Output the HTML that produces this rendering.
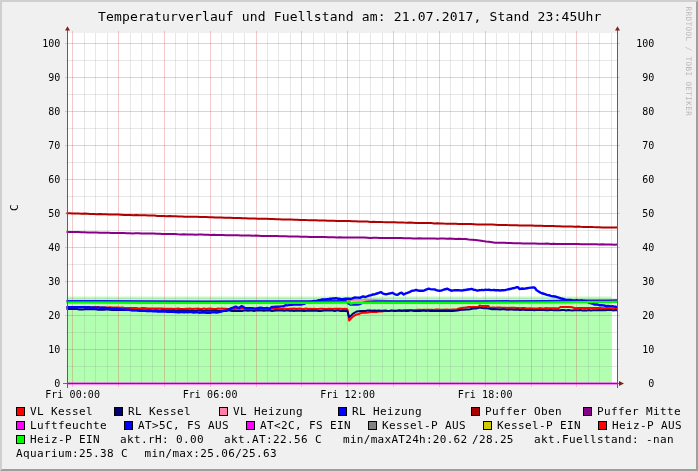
<!DOCTYPE html>
<html lang="de"><head><meta charset="utf-8"><title>Temperaturverlauf und Fuellstand</title>
<style>
html,body{margin:0;padding:0;background:#f0f0f0;}
body{width:698px;height:471px;overflow:hidden;}
svg{display:block;will-change:transform;transform:translateZ(0);}
text{font-family:"DejaVu Sans Mono","Liberation Mono",monospace;fill:#000;}
.t{font-size:13px;}
.a{font-size:10px;}
.l{font-size:11px;}
.w{font-size:7.6px;fill:#b8b8b8;}
</style></head><body>
<svg width="698" height="471" viewBox="0 0 698 471">
<rect x="0" y="0" width="698" height="471" fill="#f0f0f0"/>
<polygon points="0,0 698,0 696,2 2,2 2,469 0,471" fill="#cfcfcf"/>
<polygon points="698,471 0,471 2,469 696,469 696,2 698,0" fill="#9e9e9e"/>
<rect x="67" y="33" width="550" height="350" fill="#fff"/>
<polygon points="67,383 67,296.6 477.5,296.5 479.5,297.6 480.5,297.6 482,296.5 611.2,296.5 611.2,383" fill="#00ff00" fill-opacity="0.27"/>
<rect x="67" y="308" width="544.2" height="75" fill="#00ff00" fill-opacity="0.04"/>
<g shape-rendering="crispEdges"><line x1="72.5" y1="31" x2="72.5" y2="387" stroke="#dd5050" stroke-opacity="0.31"/><line x1="84.5" y1="33" x2="84.5" y2="383" stroke="#8f8f8f" stroke-opacity="0.21"/><line x1="95.5" y1="33" x2="95.5" y2="383" stroke="#8f8f8f" stroke-opacity="0.21"/><line x1="107.5" y1="33" x2="107.5" y2="383" stroke="#8f8f8f" stroke-opacity="0.21"/><line x1="118.5" y1="31" x2="118.5" y2="387" stroke="#dd5050" stroke-opacity="0.31"/><line x1="130.5" y1="33" x2="130.5" y2="383" stroke="#8f8f8f" stroke-opacity="0.21"/><line x1="141.5" y1="33" x2="141.5" y2="383" stroke="#8f8f8f" stroke-opacity="0.21"/><line x1="152.5" y1="33" x2="152.5" y2="383" stroke="#8f8f8f" stroke-opacity="0.21"/><line x1="164.5" y1="31" x2="164.5" y2="387" stroke="#dd5050" stroke-opacity="0.31"/><line x1="175.5" y1="33" x2="175.5" y2="383" stroke="#8f8f8f" stroke-opacity="0.21"/><line x1="187.5" y1="33" x2="187.5" y2="383" stroke="#8f8f8f" stroke-opacity="0.21"/><line x1="198.5" y1="33" x2="198.5" y2="383" stroke="#8f8f8f" stroke-opacity="0.21"/><line x1="210.5" y1="31" x2="210.5" y2="387" stroke="#dd5050" stroke-opacity="0.31"/><line x1="221.5" y1="33" x2="221.5" y2="383" stroke="#8f8f8f" stroke-opacity="0.21"/><line x1="233.5" y1="33" x2="233.5" y2="383" stroke="#8f8f8f" stroke-opacity="0.21"/><line x1="244.5" y1="33" x2="244.5" y2="383" stroke="#8f8f8f" stroke-opacity="0.21"/><line x1="256.5" y1="31" x2="256.5" y2="387" stroke="#dd5050" stroke-opacity="0.31"/><line x1="267.5" y1="33" x2="267.5" y2="383" stroke="#8f8f8f" stroke-opacity="0.21"/><line x1="278.5" y1="33" x2="278.5" y2="383" stroke="#8f8f8f" stroke-opacity="0.21"/><line x1="290.5" y1="33" x2="290.5" y2="383" stroke="#8f8f8f" stroke-opacity="0.21"/><line x1="301.5" y1="31" x2="301.5" y2="387" stroke="#dd5050" stroke-opacity="0.31"/><line x1="313.5" y1="33" x2="313.5" y2="383" stroke="#8f8f8f" stroke-opacity="0.21"/><line x1="324.5" y1="33" x2="324.5" y2="383" stroke="#8f8f8f" stroke-opacity="0.21"/><line x1="336.5" y1="33" x2="336.5" y2="383" stroke="#8f8f8f" stroke-opacity="0.21"/><line x1="347.5" y1="31" x2="347.5" y2="387" stroke="#dd5050" stroke-opacity="0.31"/><line x1="359.5" y1="33" x2="359.5" y2="383" stroke="#8f8f8f" stroke-opacity="0.21"/><line x1="370.5" y1="33" x2="370.5" y2="383" stroke="#8f8f8f" stroke-opacity="0.21"/><line x1="382.5" y1="33" x2="382.5" y2="383" stroke="#8f8f8f" stroke-opacity="0.21"/><line x1="393.5" y1="31" x2="393.5" y2="387" stroke="#dd5050" stroke-opacity="0.31"/><line x1="405.5" y1="33" x2="405.5" y2="383" stroke="#8f8f8f" stroke-opacity="0.21"/><line x1="416.5" y1="33" x2="416.5" y2="383" stroke="#8f8f8f" stroke-opacity="0.21"/><line x1="427.5" y1="33" x2="427.5" y2="383" stroke="#8f8f8f" stroke-opacity="0.21"/><line x1="439.5" y1="31" x2="439.5" y2="387" stroke="#dd5050" stroke-opacity="0.31"/><line x1="450.5" y1="33" x2="450.5" y2="383" stroke="#8f8f8f" stroke-opacity="0.21"/><line x1="462.5" y1="33" x2="462.5" y2="383" stroke="#8f8f8f" stroke-opacity="0.21"/><line x1="473.5" y1="33" x2="473.5" y2="383" stroke="#8f8f8f" stroke-opacity="0.21"/><line x1="485.5" y1="31" x2="485.5" y2="387" stroke="#dd5050" stroke-opacity="0.31"/><line x1="496.5" y1="33" x2="496.5" y2="383" stroke="#8f8f8f" stroke-opacity="0.21"/><line x1="508.5" y1="33" x2="508.5" y2="383" stroke="#8f8f8f" stroke-opacity="0.21"/><line x1="519.5" y1="33" x2="519.5" y2="383" stroke="#8f8f8f" stroke-opacity="0.21"/><line x1="531.5" y1="31" x2="531.5" y2="387" stroke="#dd5050" stroke-opacity="0.31"/><line x1="542.5" y1="33" x2="542.5" y2="383" stroke="#8f8f8f" stroke-opacity="0.21"/><line x1="553.5" y1="33" x2="553.5" y2="383" stroke="#8f8f8f" stroke-opacity="0.21"/><line x1="565.5" y1="33" x2="565.5" y2="383" stroke="#8f8f8f" stroke-opacity="0.21"/><line x1="576.5" y1="31" x2="576.5" y2="387" stroke="#dd5050" stroke-opacity="0.31"/><line x1="588.5" y1="33" x2="588.5" y2="383" stroke="#8f8f8f" stroke-opacity="0.21"/><line x1="599.5" y1="33" x2="599.5" y2="383" stroke="#8f8f8f" stroke-opacity="0.21"/><line x1="611.5" y1="33" x2="611.5" y2="383" stroke="#8f8f8f" stroke-opacity="0.21"/><line x1="65" y1="383.5" x2="620" y2="383.5" stroke="#dd5050" stroke-opacity="0.31"/><line x1="66" y1="366.5" x2="618" y2="366.5" stroke="#8f8f8f" stroke-opacity="0.21"/><line x1="65" y1="349.5" x2="620" y2="349.5" stroke="#dd5050" stroke-opacity="0.31"/><line x1="66" y1="332.5" x2="618" y2="332.5" stroke="#8f8f8f" stroke-opacity="0.21"/><line x1="65" y1="315.5" x2="620" y2="315.5" stroke="#dd5050" stroke-opacity="0.31"/><line x1="66" y1="298.5" x2="618" y2="298.5" stroke="#8f8f8f" stroke-opacity="0.21"/><line x1="65" y1="281.5" x2="620" y2="281.5" stroke="#dd5050" stroke-opacity="0.31"/><line x1="66" y1="264.5" x2="618" y2="264.5" stroke="#8f8f8f" stroke-opacity="0.21"/><line x1="65" y1="247.5" x2="620" y2="247.5" stroke="#dd5050" stroke-opacity="0.31"/><line x1="66" y1="230.5" x2="618" y2="230.5" stroke="#8f8f8f" stroke-opacity="0.21"/><line x1="65" y1="213.5" x2="620" y2="213.5" stroke="#dd5050" stroke-opacity="0.31"/><line x1="66" y1="196.5" x2="618" y2="196.5" stroke="#8f8f8f" stroke-opacity="0.21"/><line x1="65" y1="179.5" x2="620" y2="179.5" stroke="#dd5050" stroke-opacity="0.31"/><line x1="66" y1="162.5" x2="618" y2="162.5" stroke="#8f8f8f" stroke-opacity="0.21"/><line x1="65" y1="145.5" x2="620" y2="145.5" stroke="#dd5050" stroke-opacity="0.31"/><line x1="66" y1="128.5" x2="618" y2="128.5" stroke="#8f8f8f" stroke-opacity="0.21"/><line x1="65" y1="111.5" x2="620" y2="111.5" stroke="#dd5050" stroke-opacity="0.31"/><line x1="66" y1="94.5" x2="618" y2="94.5" stroke="#8f8f8f" stroke-opacity="0.21"/><line x1="65" y1="77.5" x2="620" y2="77.5" stroke="#dd5050" stroke-opacity="0.31"/><line x1="66" y1="60.5" x2="618" y2="60.5" stroke="#8f8f8f" stroke-opacity="0.21"/><line x1="65" y1="43.5" x2="620" y2="43.5" stroke="#dd5050" stroke-opacity="0.31"/></g>
<polyline points="66.5,306.9 68.6,307.0 70.7,307.0 72.8,307.1 74.9,307.1 77.0,306.9 79.1,306.9 81.2,307.3 83.2,307.1 85.3,307.1 87.4,307.4 89.5,307.2 91.6,307.4 93.7,307.2 95.8,307.3 97.9,307.1 100.0,307.4 102.0,307.5 104.0,307.4 106.0,307.5 108.0,307.5 110.0,307.3 112.0,307.6 114.0,307.5 116.0,307.5 118.0,307.4 120.0,307.7 122.0,307.6 124.0,307.8 126.0,307.9 128.0,307.9 130.0,308.1 132.0,307.9 134.0,308.1 136.0,308.1 138.0,308.3 140.0,308.4 142.0,308.1 144.0,308.1 146.0,308.2 148.0,308.5 150.0,308.4 152.0,308.5 154.0,308.4 156.0,308.5 158.0,308.5 160.0,308.5 162.0,308.6 164.0,308.7 166.0,308.8 168.0,308.7 170.0,308.8 172.0,308.8 174.0,308.9 176.0,308.7 178.0,308.6 180.0,308.8 182.0,308.9 184.0,308.9 186.0,308.8 188.0,308.8 190.0,308.6 192.0,308.9 194.0,308.8 196.0,308.7 198.0,308.6 200.0,308.9 202.0,309.0 204.0,308.6 206.0,308.9 208.0,308.7 210.0,308.6 212.0,308.7 214.0,308.9 216.0,308.9 218.0,308.6 220.0,308.8 222.0,308.6 224.0,308.8 226.0,308.7 228.0,308.9 230.0,308.9 232.0,308.7 234.0,308.9 236.0,308.7 238.0,308.6 240.0,308.8 242.0,308.5 244.0,308.6 246.0,308.7 248.0,308.7 250.0,308.6 252.0,308.5 254.0,308.9 256.0,308.6 258.0,308.9 260.0,308.9 262.0,308.7 264.0,308.7 266.0,308.7 268.0,308.8 270.0,308.8 272.0,308.8 274.0,308.8 276.0,308.9 278.0,308.8 280.0,308.7 282.0,308.9 284.0,308.7 286.0,308.7 288.0,309.0 290.0,308.8 292.0,308.8 294.0,308.6 296.0,308.8 298.0,308.8 300.0,308.6 302.0,308.9 304.1,308.9 306.1,308.6 308.1,308.9 310.2,308.8 312.2,308.9 314.2,308.8 316.3,308.9 318.3,308.9 320.3,308.7 322.4,308.7 324.4,308.9 326.5,309.0 328.5,308.8 330.5,308.8 332.6,308.9 334.6,308.8 336.6,308.8 338.7,308.8 340.7,308.8 342.7,308.9 344.8,308.8 346.8,308.9 347.6,310.1 348.3,314.8 349.2,320.5 350.5,319.1 352.7,316.7 356.6,314.4 358.8,314.0 361.0,313.1 363.2,312.8 365.5,312.7 367.8,312.6 370.0,312.1 372.2,312.1 374.3,311.9 376.5,311.9 378.7,311.6 380.8,311.6 383.0,311.2 385.1,311.1 387.2,311.1 389.4,311.1 391.5,310.8 393.6,310.6 395.8,310.5 397.9,310.5 400.0,310.3 402.0,310.5 404.0,310.4 406.0,310.1 408.0,310.1 410.0,310.3 412.0,310.2 414.0,310.2 416.0,309.9 418.0,309.8 420.0,309.8 422.0,310.0 424.0,309.7 426.0,309.7 428.0,309.7 430.0,309.7 432.0,309.7 434.0,309.9 436.0,309.5 438.0,309.4 440.0,309.8 442.1,309.7 444.3,309.8 446.4,309.5 448.6,309.7 450.7,309.7 452.9,309.4 455.0,309.6 457.0,309.1 459.0,308.5 461.4,308.1 463.9,307.7 466.3,307.4 468.7,307.1 471.1,307.0 473.6,307.1 476.1,307.0 478.5,307.1 479.5,305.6 481.8,306.0 484.0,305.9 486.2,306.0 488.5,306.0 489.5,307.7 491.6,307.6 493.6,307.4 495.6,307.7 497.7,307.5 499.8,307.6 501.8,307.7 503.9,307.7 505.9,307.7 507.9,307.9 510.0,307.8 512.0,307.8 514.0,307.8 516.0,308.1 518.0,308.0 520.0,308.2 522.0,308.0 524.0,308.0 526.0,308.2 528.0,308.4 530.0,308.2 532.0,308.4 534.0,308.5 536.0,308.4 538.0,308.4 540.0,308.1 542.0,308.4 544.0,308.4 546.0,308.1 548.0,308.2 550.0,308.2 552.0,308.3 554.0,308.3 556.0,308.3 558.0,308.4 561.0,306.9 563.2,306.9 565.4,307.0 567.6,306.9 569.8,306.9 572.0,307.3 575.0,308.2 577.1,307.9 579.2,308.1 581.3,308.0 583.4,308.0 585.5,308.0 587.6,308.1 589.7,308.1 591.8,308.0 593.9,307.9 596.0,307.9 598.1,307.9 600.3,308.1 602.5,308.3 604.6,308.2 606.8,308.1 608.9,308.2 611.0,308.4 613.2,308.5 615.4,308.7 617.5,308.6" fill="none" stroke="#ff0000" stroke-width="2.0" stroke-linejoin="round" />
<polyline points="66.5,308.9 68.6,308.8 70.7,309.0 72.8,308.9 74.9,308.9 77.0,309.1 79.1,309.4 81.2,309.4 83.2,309.4 85.3,309.1 87.4,309.3 89.5,309.2 91.6,309.2 93.7,309.2 95.8,309.3 97.9,309.7 100.0,309.7 102.0,309.7 104.0,309.7 106.0,309.5 108.0,309.6 110.0,309.8 112.0,309.9 114.0,310.0 116.0,310.0 118.0,309.7 120.0,310.0 122.0,310.0 124.0,310.0 126.0,309.8 128.0,310.0 130.0,309.8 132.0,310.3 134.0,310.3 136.0,310.2 138.0,310.1 140.0,310.4 142.0,310.3 144.0,310.5 146.0,310.5 148.0,310.3 150.0,310.3 152.0,310.4 154.0,310.4 156.0,310.3 158.0,310.4 160.0,310.7 162.0,310.3 164.0,310.3 166.0,310.6 168.0,310.5 170.0,310.6 172.0,310.6 174.0,310.5 176.0,310.9 178.0,310.5 180.0,310.6 182.0,310.5 184.0,310.7 186.0,310.6 188.0,310.6 190.0,310.8 192.0,310.7 194.0,310.8 196.0,311.0 198.0,310.6 200.0,310.6 202.0,310.7 204.0,310.9 206.0,310.8 208.0,310.7 210.0,310.7 212.0,310.6 214.0,310.8 216.0,310.5 218.0,310.9 220.0,311.0 222.0,311.0 224.0,310.9 226.0,311.0 228.0,310.5 230.0,310.6 232.0,311.0 234.0,310.9 236.0,310.7 238.0,310.9 240.0,310.8 242.0,310.9 244.0,310.6 246.0,310.6 248.0,310.7 250.0,310.5 252.0,310.6 254.0,310.9 256.0,310.6 258.0,310.5 260.0,310.5 262.0,310.5 264.0,310.8 266.0,310.6 268.0,310.6 270.0,310.5 272.0,310.9 274.0,310.7 276.0,310.6 278.0,310.5 280.0,310.5 282.0,310.5 284.0,310.8 286.0,310.5 288.0,310.5 290.0,310.7 292.0,310.6 294.0,310.9 296.0,310.5 298.0,310.7 300.0,310.8 302.0,310.7 304.1,310.9 306.1,310.7 308.1,310.6 310.2,310.7 312.2,310.5 314.2,310.7 316.3,310.6 318.3,310.9 320.3,310.9 322.4,310.7 324.4,310.5 326.5,310.6 328.5,310.6 330.5,310.6 332.6,310.6 334.6,310.9 336.6,310.5 338.7,310.5 340.7,310.9 342.7,310.7 344.8,310.9 346.8,310.7 347.6,311.7 348.4,314.6 349.2,317.1 350.5,316.1 352.7,313.9 356.6,311.5 358.8,311.2 361.0,311.1 363.2,311.0 365.5,310.9 367.8,310.5 370.0,310.6 372.2,310.7 374.3,310.6 376.5,310.7 378.7,310.6 380.8,310.7 383.0,310.7 385.1,310.5 387.2,310.8 389.2,310.9 391.3,310.4 393.4,310.9 395.5,310.9 397.5,310.8 399.6,310.5 401.7,310.9 403.8,310.6 405.8,311.0 407.9,310.9 410.0,310.6 412.0,310.6 414.0,310.9 416.0,310.9 418.0,310.9 420.0,311.0 422.0,310.7 424.0,310.6 426.0,311.1 428.0,310.6 430.0,311.1 432.0,310.7 434.0,311.0 436.0,311.0 438.0,311.1 440.0,310.9 442.1,311.1 444.3,310.7 446.4,310.9 448.6,310.8 450.7,311.0 452.9,311.0 455.0,310.8 457.5,310.5 460.0,310.0 462.0,309.8 464.0,309.8 466.0,309.6 468.0,309.6 470.0,309.3 472.0,308.7 474.0,308.6 476.0,308.5 478.0,308.1 480.0,307.6 482.0,308.1 484.0,308.3 486.0,308.0 488.0,308.4 490.0,308.7 492.0,309.3 494.0,309.1 496.0,309.2 498.0,309.3 500.0,309.6 502.0,309.2 504.0,309.3 506.0,309.6 508.0,309.7 510.0,309.6 512.0,309.6 514.0,309.8 516.0,309.8 518.0,309.5 520.0,310.0 522.0,309.7 524.0,309.8 526.0,310.1 528.0,309.9 530.0,310.1 532.0,309.8 534.0,310.2 536.0,309.9 538.0,309.9 540.0,310.1 542.0,310.0 544.0,310.1 546.0,310.3 548.0,310.2 550.0,309.9 552.0,310.1 554.0,310.2 556.0,310.2 558.0,310.3 560.0,310.2 562.1,310.0 564.1,310.1 566.2,310.4 568.2,310.1 570.3,310.3 572.3,310.4 574.4,310.3 576.4,310.3 578.5,310.3 580.5,310.1 582.6,310.4 584.6,310.2 586.7,310.4 588.8,310.1 590.8,310.4 592.9,310.3 594.9,310.3 597.0,310.2 599.0,310.0 601.1,310.3 603.1,310.1 605.2,310.3 607.2,310.0 609.3,310.0 611.3,310.0 613.4,310.4 615.4,310.0 617.5,310.2" fill="none" stroke="#000080" stroke-width="2.0" stroke-linejoin="round" />
<polyline points="66.5,301.1 100.0,301.2 146.0,301.5 206.0,301.6 306.0,301.4 340.0,301.4 349.0,300.7 354.0,299.8 372.0,299.7 380.0,300.0 386.0,300.6 395.0,301.5 480.0,301.5 546.0,301.1 580.0,300.8 608.0,300.6 617.5,300.5" fill="none" stroke="#ff80a0" stroke-width="1.7" stroke-linejoin="round" />
<polyline points="66.5,300.9 100.0,301.1 146.0,301.3 206.0,301.4 306.0,301.2 346.0,301.1 348.0,303.5 350.0,304.7 357.0,304.8 360.0,304.2 363.0,302.8 367.0,301.7 375.0,301.3 480.0,301.3 546.0,300.9 580.0,300.6 608.0,300.4 617.5,300.3" fill="none" stroke="#0818f0" stroke-width="2.0" stroke-linejoin="round" />
<polyline points="66.5,213.2 69.5,213.3 72.6,213.4 75.6,213.6 78.6,213.6 81.7,213.7 84.7,213.6 87.7,213.8 90.8,214.0 93.8,214.0 96.8,214.2 99.9,214.1 102.9,214.2 105.9,214.3 109.0,214.4 112.0,214.5 115.0,214.5 118.1,214.6 121.1,214.7 124.1,214.9 127.2,215.0 130.2,214.9 133.2,215.2 136.3,215.1 139.3,215.3 142.4,215.3 145.4,215.3 148.4,215.6 151.5,215.5 154.5,215.6 157.5,215.9 160.6,216.0 163.6,215.9 166.6,216.2 169.7,216.1 172.7,216.3 175.7,216.2 178.8,216.5 181.8,216.5 184.8,216.7 187.9,216.7 190.9,216.7 193.9,216.8 197.0,216.8 200.0,216.9 203.0,217.0 206.1,217.1 209.1,217.3 212.2,217.2 215.2,217.5 218.3,217.5 221.3,217.6 224.3,217.8 227.4,217.8 230.4,217.8 233.5,218.0 236.5,218.1 239.6,218.0 242.6,218.3 245.7,218.2 248.7,218.5 251.7,218.6 254.8,218.4 257.8,218.7 260.9,218.7 263.9,218.8 267.0,218.8 270.0,218.9 273.0,219.0 276.1,219.3 279.1,219.2 282.2,219.4 285.2,219.5 288.3,219.6 291.3,219.6 294.3,219.7 297.4,219.8 300.4,219.9 303.5,219.9 306.5,220.1 309.6,220.2 312.6,220.3 315.7,220.2 318.7,220.5 321.7,220.4 324.8,220.5 327.8,220.7 330.9,220.8 333.9,220.8 337.0,221.0 340.0,221.0 343.0,221.0 346.1,221.1 349.1,221.1 352.2,221.2 355.2,221.3 358.3,221.5 361.3,221.6 364.3,221.5 367.4,221.6 370.4,221.9 373.5,221.8 376.5,221.9 379.6,221.9 382.6,222.1 385.7,222.2 388.7,222.2 391.7,222.2 394.8,222.2 397.8,222.5 400.9,222.4 403.9,222.6 407.0,222.7 410.0,222.6 413.0,222.8 416.1,223.0 419.1,223.0 422.2,223.1 425.2,223.0 428.3,223.1 431.3,223.1 434.3,223.4 437.4,223.3 440.4,223.4 443.5,223.6 446.5,223.7 449.6,223.8 452.6,223.7 455.7,223.8 458.7,223.9 461.7,224.0 464.8,224.0 467.8,224.1 470.9,224.1 473.9,224.2 477.0,224.4 480.0,224.5 483.1,224.5 486.1,224.5 489.2,224.6 492.2,224.6 495.3,224.7 498.3,224.9 501.4,225.0 504.4,224.9 507.5,225.1 510.6,225.2 513.6,225.2 516.7,225.3 519.7,225.4 522.8,225.4 525.8,225.5 528.9,225.5 531.9,225.6 535.0,225.7 538.1,225.8 541.1,225.8 544.2,226.0 547.2,226.0 550.3,226.1 553.3,226.0 556.4,226.2 559.4,226.2 562.5,226.4 565.6,226.4 568.6,226.5 571.7,226.6 574.7,226.7 577.8,226.6 580.8,226.8 583.9,226.9 586.9,227.0 590.0,226.9 593.1,227.1 596.1,227.2 599.2,227.2 602.2,227.4 605.3,227.4 608.3,227.4 611.4,227.5 614.4,227.4 617.5,227.6" fill="none" stroke="#b00000" stroke-width="2.0" stroke-linejoin="round" />
<polyline points="66.5,232.1 69.5,232.1 72.5,232.1 75.5,232.1 78.5,232.1 81.5,232.3 84.5,232.3 87.5,232.5 90.5,232.4 93.5,232.6 96.6,232.5 99.6,232.7 102.6,232.8 105.6,232.8 108.6,232.8 111.6,232.9 114.6,232.9 117.6,233.0 120.6,233.1 123.6,233.1 126.6,233.3 129.6,233.3 132.6,233.4 135.6,233.3 138.6,233.3 141.6,233.6 144.6,233.6 147.6,233.6 150.7,233.6 153.7,233.6 156.7,233.8 159.7,233.8 162.7,234.0 165.7,234.0 168.7,233.9 171.7,234.1 174.7,234.1 177.7,234.3 180.7,234.4 183.7,234.3 186.7,234.4 189.7,234.5 192.7,234.6 195.7,234.7 198.7,234.5 201.7,234.6 204.8,234.8 207.8,234.7 210.8,234.9 213.8,234.8 216.8,235.1 219.8,235.0 222.8,235.0 225.8,235.2 228.8,235.2 231.8,235.2 234.8,235.3 237.8,235.3 240.8,235.4 243.8,235.6 246.8,235.6 249.8,235.5 252.8,235.7 255.8,235.6 258.9,235.8 261.9,236.0 264.9,235.9 267.9,235.9 270.9,236.0 273.9,236.1 276.9,236.1 279.9,236.3 282.9,236.2 285.9,236.3 288.9,236.5 291.9,236.4 294.9,236.6 297.9,236.5 300.9,236.7 303.9,236.8 306.9,236.8 309.9,236.9 313.0,236.9 316.0,237.0 319.0,237.1 322.0,237.0 325.0,237.1 328.0,237.2 331.0,237.2 334.0,237.2 337.0,237.4 340.0,237.3 343.1,237.4 346.1,237.5 349.1,237.4 352.2,237.4 355.2,237.5 358.3,237.6 361.4,237.6 364.4,237.6 367.4,237.7 370.5,237.9 373.6,237.8 376.6,237.8 379.6,238.0 382.7,238.0 385.8,237.9 388.8,238.0 391.9,238.0 394.9,238.0 397.9,238.1 401.0,238.1 404.1,238.3 407.1,238.2 410.1,238.3 413.2,238.4 416.2,238.4 419.3,238.3 422.4,238.4 425.4,238.4 428.4,238.5 431.5,238.5 434.6,238.6 437.6,238.7 440.6,238.6 443.7,238.6 446.8,238.7 449.8,238.6 452.9,238.7 455.9,238.9 458.9,238.8 462.0,239.0 465.3,239.1 468.7,239.5 472.0,239.7 475.7,239.9 479.3,240.4 483.0,241.0 486.0,241.4 489.0,241.7 492.0,242.2 495.0,242.7 498.1,242.7 501.2,242.8 504.4,242.8 507.5,243.0 510.6,243.0 513.8,243.2 516.9,243.3 520.0,243.3 523.0,243.5 526.1,243.4 529.1,243.4 532.2,243.6 535.2,243.6 538.3,243.7 541.3,243.7 544.4,243.7 547.4,243.6 550.5,243.9 553.5,243.7 556.6,243.9 559.6,244.0 562.7,244.0 565.7,244.1 568.8,244.0 571.8,244.1 574.8,244.1 577.9,244.0 580.9,244.3 584.0,244.3 587.0,244.2 590.1,244.3 593.1,244.3 596.2,244.3 599.2,244.4 602.3,244.3 605.3,244.5 608.4,244.6 611.4,244.5 614.5,244.7 617.5,244.6" fill="none" stroke="#880088" stroke-width="2.0" stroke-linejoin="round" />
<line x1="67" y1="383.6" x2="617" y2="383.6" stroke="#ff00ff" stroke-width="2.0" stroke-opacity="0.85"/>
<polyline points="66.5,307.2 68.0,307.1 69.5,307.4 71.0,307.1 72.5,307.3 74.0,307.2 75.5,307.1 77.0,307.3 78.5,307.1 80.0,307.3 81.5,307.1 83.0,307.1 84.5,307.3 86.0,307.5 87.5,307.2 89.0,307.3 90.5,307.5 92.0,307.7 93.5,307.5 95.0,307.4 96.6,307.8 98.2,307.4 99.8,307.9 101.4,307.7 103.0,307.7 104.5,307.8 106.0,308.0 107.5,308.4 109.0,308.2 110.5,308.5 112.0,308.7 113.6,308.7 115.2,308.9 116.8,308.7 118.4,308.9 120.0,309.1 121.5,309.4 123.0,309.4 124.5,309.4 126.0,309.7 127.5,309.7 129.0,309.8 130.5,310.1 132.0,310.2 133.5,310.1 135.0,310.3 136.5,310.4 138.0,310.6 139.5,310.7 141.0,310.5 142.5,310.9 144.0,310.6 145.5,310.8 147.0,311.1 148.5,310.8 150.0,311.1 151.6,310.9 153.1,311.3 154.7,311.4 156.2,311.3 157.8,311.5 159.4,311.3 160.9,311.5 162.5,311.5 164.1,311.6 165.6,311.6 167.2,311.8 168.8,311.9 170.3,311.7 171.9,311.9 173.4,311.6 175.0,312.0 176.5,312.0 178.1,312.2 179.6,312.2 181.2,311.9 182.7,312.0 184.2,312.2 185.8,311.9 187.3,312.2 188.8,312.1 190.4,312.1 191.9,312.1 193.5,312.5 195.0,312.2 196.7,312.3 198.3,312.4 200.0,312.7 201.7,312.3 203.3,312.5 205.0,312.6 206.7,312.8 208.3,312.7 210.0,312.7 211.7,312.4 213.3,312.4 215.0,312.3 216.5,312.5 218.0,312.4 219.5,311.9 221.0,311.7 222.7,311.2 224.3,310.7 226.0,310.3 228.0,309.7 230.0,308.9 231.5,308.1 233.0,307.6 235.7,306.6 238.6,308.1 240.3,307.1 241.5,306.1 243.0,306.8 244.9,308.0 246.4,308.2 248.0,308.1 250.0,308.3 252.0,308.1 254.0,308.4 256.0,308.6 258.0,308.1 260.0,307.8 262.0,308.0 264.0,308.5 265.5,308.1 267.0,308.0 269.5,308.8 271.8,306.9 273.7,307.0 275.7,306.7 277.6,306.7 279.5,306.6 281.4,306.4 283.3,306.4 285.6,305.2 287.1,305.4 288.7,305.1 290.2,304.7 291.9,304.7 293.6,304.6 295.3,304.5 297.0,304.3 299.0,304.6 301.0,304.5 302.5,304.1 304.0,303.9 305.5,303.2 307.0,302.7 308.5,302.5 310.0,302.1 311.5,302.0 313.0,301.3 314.5,301.0 316.0,301.1 317.5,300.6 319.0,300.1 320.7,300.0 322.3,299.5 324.0,299.4 325.5,299.5 327.0,299.3 328.5,299.1 330.0,298.8 331.5,298.7 333.0,298.4 334.5,298.5 336.0,298.2 337.7,298.7 339.3,298.8 341.0,299.1 342.5,299.2 344.0,299.0 345.5,298.8 347.0,298.6 349.0,298.8 351.0,299.0 353.0,298.1 355.0,297.5 356.6,297.6 358.1,297.6 359.7,297.8 361.4,297.1 363.0,296.4 365.5,297.0 368.0,296.0 369.0,295.6 371.0,295.2 373.0,294.5 375.0,294.2 377.0,293.5 378.9,292.8 380.8,292.1 383.0,293.6 385.8,294.3 387.4,294.0 389.0,293.6 390.6,293.3 392.3,292.8 395.0,294.3 397.3,294.9 399.5,293.4 401.6,292.7 403.8,294.5 406.0,293.3 408.8,292.3 410.4,291.6 412.0,290.8 414.0,290.6 416.0,289.9 418.0,290.5 420.0,290.8 421.5,290.6 423.0,290.7 424.5,290.4 426.0,289.7 428.8,288.7 430.4,289.1 432.0,289.4 434.6,289.4 436.3,290.1 438.0,290.5 439.5,290.7 441.0,290.6 442.5,290.1 444.0,289.5 445.5,289.3 447.0,288.7 449.5,289.8 451.5,290.7 453.3,290.4 455.2,290.2 457.0,290.2 458.5,290.1 460.0,290.4 461.5,290.5 463.0,290.3 464.7,290.0 466.3,289.8 468.0,289.5 469.8,289.3 471.5,288.9 474.0,289.9 475.6,290.0 477.3,290.7 478.9,290.3 480.4,290.1 482.0,290.0 483.7,290.1 485.3,289.8 487.0,289.9 488.8,289.8 490.5,290.0 492.2,290.1 494.0,290.0 495.5,290.2 497.0,290.2 498.6,290.1 500.1,290.6 501.6,290.3 503.3,290.2 505.0,290.1 506.9,289.7 508.8,289.2 510.9,288.8 513.0,288.2 514.7,288.0 516.3,287.3 518.0,287.2 519.5,289.1 522.0,288.5 523.5,288.7 525.0,288.6 527.0,288.2 529.0,287.9 531.0,287.6 532.8,287.4 534.5,287.5 535.5,288.6 536.6,290.3 538.7,291.6 540.8,292.8 542.9,293.5 545.0,294.2 546.9,294.9 548.9,295.2 550.8,295.8 552.9,296.3 555.0,296.5 557.2,297.2 559.4,297.9 561.2,298.5 563.0,298.8 564.5,299.3 566.0,300.0 567.5,299.9 569.0,300.0 570.5,300.0 572.0,300.4 573.5,300.5 575.0,300.6 576.7,300.3 578.3,300.6 580.0,300.7 581.7,300.5 583.3,300.9 585.0,301.0 587.0,301.6 589.0,302.8 590.6,303.0 592.2,303.5 593.8,304.2 595.3,304.5 596.9,304.4 598.5,304.9 600.0,305.2 601.7,305.3 603.3,305.4 605.0,305.7 606.5,306.1 608.0,305.9 609.5,306.3 611.0,306.4 612.6,306.3 614.2,306.6 615.9,306.8 617.5,306.9" fill="none" stroke="#0000ff" stroke-width="2.4" stroke-linejoin="round" />
<polyline points="66.5,301.5 100.0,301.6 146.0,301.9 206.0,302.0 306.0,301.8 346.0,301.7 348.0,301.1 349.0,300.4 350.0,301.7 351.0,302.6 353.0,302.0 360.0,301.8 480.0,301.9 546.0,301.5 580.0,301.2 608.0,301.0 617.5,300.9" fill="none" stroke="#806000" stroke-width="0.9" stroke-linejoin="round" stroke-opacity="0.55"/>
<polyline points="66.5,302.5 100.0,302.6 146.0,302.9 206.0,303.0 306.0,302.8 346.0,302.7 348.0,302.1 349.0,301.4 350.0,302.7 351.0,303.6 353.0,303.0 360.0,302.8 480.0,302.9 546.0,302.5 580.0,302.2 608.0,302.0 617.5,301.9" fill="none" stroke="#00ff00" stroke-width="2.2" stroke-linejoin="round" />
<g shape-rendering="crispEdges">
<line x1="63" y1="383.5" x2="619" y2="383.5" stroke="#202020" stroke-opacity="0.6"/>
<line x1="67.5" y1="30" x2="67.5" y2="388" stroke="#606060"/>
<line x1="617.5" y1="30" x2="617.5" y2="388" stroke="#606060"/>
</g>
<polygon points="65,30.6 70,30.6 67.5,26.2" fill="#802020"/>
<polygon points="615,30.6 620,30.6 617.5,26.2" fill="#802020"/>
<polygon points="619,381 619,386 624,383.5" fill="#802020"/>
<text x="98.0" y="20.7" class="t" text-anchor="start" letter-spacing="0.165" xml:space="preserve" >Temperaturverlauf und Fuellstand am: 21.07.2017, Stand 23:45Uhr</text>
<text x="60.4" y="387.1" class="a" text-anchor="end" xml:space="preserve" >0</text>
<text x="654.3" y="387.1" class="a" text-anchor="end" xml:space="preserve" >0</text>
<text x="60.4" y="353.1" class="a" text-anchor="end" xml:space="preserve" >10</text>
<text x="654.3" y="353.1" class="a" text-anchor="end" xml:space="preserve" >10</text>
<text x="60.4" y="319.1" class="a" text-anchor="end" xml:space="preserve" >20</text>
<text x="654.3" y="319.1" class="a" text-anchor="end" xml:space="preserve" >20</text>
<text x="60.4" y="285.1" class="a" text-anchor="end" xml:space="preserve" >30</text>
<text x="654.3" y="285.1" class="a" text-anchor="end" xml:space="preserve" >30</text>
<text x="60.4" y="251.1" class="a" text-anchor="end" xml:space="preserve" >40</text>
<text x="654.3" y="251.1" class="a" text-anchor="end" xml:space="preserve" >40</text>
<text x="60.4" y="217.1" class="a" text-anchor="end" xml:space="preserve" >50</text>
<text x="654.3" y="217.1" class="a" text-anchor="end" xml:space="preserve" >50</text>
<text x="60.4" y="183.1" class="a" text-anchor="end" xml:space="preserve" >60</text>
<text x="654.3" y="183.1" class="a" text-anchor="end" xml:space="preserve" >60</text>
<text x="60.4" y="149.1" class="a" text-anchor="end" xml:space="preserve" >70</text>
<text x="654.3" y="149.1" class="a" text-anchor="end" xml:space="preserve" >70</text>
<text x="60.4" y="115.1" class="a" text-anchor="end" xml:space="preserve" >80</text>
<text x="654.3" y="115.1" class="a" text-anchor="end" xml:space="preserve" >80</text>
<text x="60.4" y="81.1" class="a" text-anchor="end" xml:space="preserve" >90</text>
<text x="654.3" y="81.1" class="a" text-anchor="end" xml:space="preserve" >90</text>
<text x="60.4" y="47.1" class="a" text-anchor="end" xml:space="preserve" >100</text>
<text x="654.3" y="47.1" class="a" text-anchor="end" xml:space="preserve" >100</text>
<text x="45.2" y="397.7" class="a" text-anchor="start" letter-spacing="0.07" xml:space="preserve" >Fri 00:00</text>
<text x="182.7" y="397.7" class="a" text-anchor="start" letter-spacing="0.07" xml:space="preserve" >Fri 06:00</text>
<text x="320.2" y="397.7" class="a" text-anchor="start" letter-spacing="0.07" xml:space="preserve" >Fri 12:00</text>
<text x="457.7" y="397.7" class="a" text-anchor="start" letter-spacing="0.07" xml:space="preserve" >Fri 18:00</text>
<text class="l" transform="translate(18,207.7) rotate(-90)" text-anchor="middle">C</text>
<text class="w" transform="translate(685.5,6.5) rotate(90)" letter-spacing="0.42">RRDTOOL / TOBI OETIKER</text>
<rect x="16.5" y="407.5" width="8" height="8" fill="#ff0000" stroke="#000" stroke-width="1" shape-rendering="crispEdges"/>
<text x="30" y="415" class="l" text-anchor="start" letter-spacing="0.38" xml:space="preserve" >VL Kessel</text>
<rect x="114.5" y="407.5" width="8" height="8" fill="#000070" stroke="#000" stroke-width="1" shape-rendering="crispEdges"/>
<text x="128" y="415" class="l" text-anchor="start" letter-spacing="0.38" xml:space="preserve" >RL Kessel</text>
<rect x="219.5" y="407.5" width="8" height="8" fill="#ff80a8" stroke="#000" stroke-width="1" shape-rendering="crispEdges"/>
<text x="233" y="415" class="l" text-anchor="start" letter-spacing="0.38" xml:space="preserve" >VL Heizung</text>
<rect x="338.5" y="407.5" width="8" height="8" fill="#0000ff" stroke="#000" stroke-width="1" shape-rendering="crispEdges"/>
<text x="352" y="415" class="l" text-anchor="start" letter-spacing="0.38" xml:space="preserve" >RL Heizung</text>
<rect x="471.5" y="407.5" width="8" height="8" fill="#aa0000" stroke="#000" stroke-width="1" shape-rendering="crispEdges"/>
<text x="485" y="415" class="l" text-anchor="start" letter-spacing="0.38" xml:space="preserve" >Puffer Oben</text>
<rect x="583.5" y="407.5" width="8" height="8" fill="#880088" stroke="#000" stroke-width="1" shape-rendering="crispEdges"/>
<text x="597" y="415" class="l" text-anchor="start" letter-spacing="0.38" xml:space="preserve" >Puffer Mitte</text>
<rect x="16.5" y="421.5" width="8" height="8" fill="#ff00ff" stroke="#000" stroke-width="1" shape-rendering="crispEdges"/>
<text x="30" y="429" class="l" text-anchor="start" letter-spacing="0.38" xml:space="preserve" >Luftfeuchte</text>
<rect x="124.5" y="421.5" width="8" height="8" fill="#0000ff" stroke="#000" stroke-width="1" shape-rendering="crispEdges"/>
<text x="138" y="429" class="l" text-anchor="start" letter-spacing="0.38" xml:space="preserve" >AT&gt;5C, FS AUS</text>
<rect x="246.5" y="421.5" width="8" height="8" fill="#ff00ff" stroke="#000" stroke-width="1" shape-rendering="crispEdges"/>
<text x="260" y="429" class="l" text-anchor="start" letter-spacing="0.38" xml:space="preserve" >AT&lt;2C, FS EIN</text>
<rect x="368.5" y="421.5" width="8" height="8" fill="#808080" stroke="#000" stroke-width="1" shape-rendering="crispEdges"/>
<text x="382" y="429" class="l" text-anchor="start" letter-spacing="0.38" xml:space="preserve" >Kessel-P AUS</text>
<rect x="483.5" y="421.5" width="8" height="8" fill="#cccc00" stroke="#000" stroke-width="1" shape-rendering="crispEdges"/>
<text x="497" y="429" class="l" text-anchor="start" letter-spacing="0.38" xml:space="preserve" >Kessel-P EIN</text>
<rect x="598.5" y="421.5" width="8" height="8" fill="#ff0000" stroke="#000" stroke-width="1" shape-rendering="crispEdges"/>
<text x="612" y="429" class="l" text-anchor="start" letter-spacing="0.38" xml:space="preserve" >Heiz-P AUS</text>
<rect x="16.5" y="435.5" width="8" height="8" fill="#00ff00" stroke="#000" stroke-width="1" shape-rendering="crispEdges"/>
<text x="30" y="443" class="l" text-anchor="start" letter-spacing="0.38" xml:space="preserve" >Heiz-P EIN</text>
<text x="120" y="443" class="l" text-anchor="start" letter-spacing="0.38" xml:space="preserve" >akt.rH: 0.00</text>
<text x="224" y="443" class="l" text-anchor="start" letter-spacing="0.38" xml:space="preserve" >akt.AT:22.56 C</text>
<text x="343" y="443" class="l" text-anchor="start" letter-spacing="0.29" xml:space="preserve" >min/maxAT24h:20.62</text>
<text x="472.1" y="443" class="l" text-anchor="start" letter-spacing="0.33" xml:space="preserve" >/28.25</text>
<text x="534" y="443" class="l" text-anchor="start" letter-spacing="0.38" xml:space="preserve" >akt.Fuellstand: -nan</text>
<text x="16" y="457" class="l" text-anchor="start" letter-spacing="0.38" xml:space="preserve" >Aquarium:25.38 C</text>
<text x="144.5" y="457" class="l" text-anchor="start" letter-spacing="0.35" xml:space="preserve" >min/max:25.06/25.63</text>
</svg></body></html>
